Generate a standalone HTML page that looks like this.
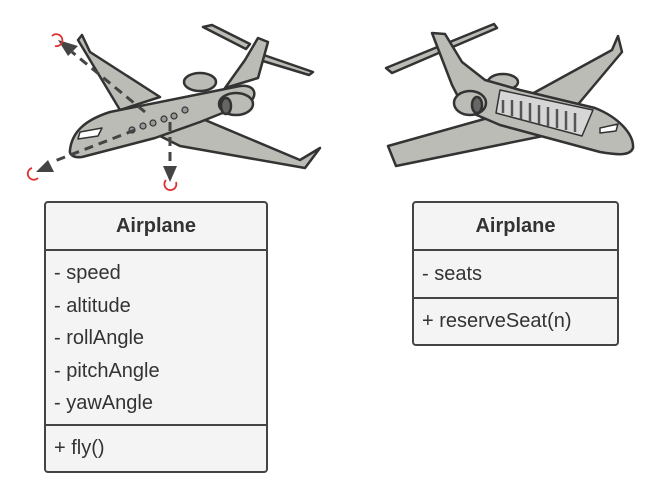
<!DOCTYPE html>
<html><head><style>
body{margin:0;width:671px;height:497px;background:#fff;position:relative;font-family:"Liberation Sans",sans-serif;color:#333;overflow:hidden}
.box{position:absolute;border:2.5px solid #444;border-radius:4px;background:#f4f4f4;box-sizing:border-box}
.sec{border-top:2.5px solid #444;box-sizing:border-box;padding-left:8px;font-size:20px}
.hd{text-align:center;font-weight:bold;font-size:20px}
</style></head><body>
<svg width="671" height="200" style="position:absolute;left:0;top:0" stroke="#333" stroke-width="2.5" stroke-linejoin="round">
<!-- left plane -->
<g fill="#bcbcb6">
<polygon points="203,27 212,25 250,44 246,49"/>
<polygon points="255,52 313,72 309,75 253,58"/>
<polygon points="78,40 82,35 90,52 160,97 120,110"/>
<polygon points="225,88 245,60 258,38 268,42 258,78"/>
<ellipse cx="200" cy="82" rx="16" ry="9"/>
<polygon points="158,135 205,120 300,160 320,148 305,168 180,146"/>
<path d="M70,150 C72,132 85,120 110,112 L240,86 C255,84 258,95 250,102 L200,122 L155,138 L82,157 C74,158 69,155 70,150 Z"/>
<ellipse cx="236" cy="104" rx="17" ry="11"/>
</g>
<ellipse cx="226" cy="106" rx="5" ry="8" fill="#666"/>
<polygon points="80,132 102,128 98,136 78,139" fill="#fff" stroke-width="1.5"/>
<g fill="#999" stroke-width="1.2"><circle cx="132" cy="130" r="3"/><circle cx="143" cy="126" r="3"/><circle cx="153" cy="123" r="3"/><circle cx="164" cy="119" r="3"/><circle cx="174" cy="116" r="3"/><circle cx="185" cy="110" r="3"/></g>
<g stroke="#444" stroke-width="3" stroke-dasharray="9,6" fill="none">
<line x1="145" y1="112" x2="72" y2="52"/>
<line x1="135" y1="130" x2="52" y2="162"/>
<line x1="170" y1="122" x2="170" y2="168"/>
</g>
<g fill="#444" stroke="none">
<polygon points="58,40 78,46 68,56"/>
<polygon points="36,172 48,160 54,172"/>
<polygon points="163,166 177,166 170,182"/>
</g>
<g stroke="#d33" stroke-width="1.8" fill="none">
<path d="M52,36 A6,6 0 1 1 55,46"/><path d="M32,168 A6,6 0 1 0 38,178"/><path d="M166,180 A6,6 0 1 0 176,182"/>
</g>
<!-- right plane -->
<g fill="#bcbcb6">
<polygon points="386,68 494,24 497,28 392,73"/>
<polygon points="530,95 612,50 618,36 622,52 575,108"/>
<ellipse cx="503" cy="82" rx="15" ry="8"/>
<polygon points="495,116 388,146 396,166 548,135"/>
<path d="M432,33 L445,34 L462,62 L485,80 L520,90 L595,108 C620,118 634,135 633,148 C630,156 618,155 600,152 L500,125 L465,110 L452,85 Z"/>
<ellipse cx="470" cy="103" rx="16" ry="12"/>
</g>
<ellipse cx="477" cy="105" rx="5" ry="8" fill="#666"/>
<polygon points="500,90 593,110 582,136 496,113" fill="#d6d6d6" stroke-width="1.5"/>
<g stroke="#555" stroke-width="2.5"><line x1="503" y1="100" x2="503" y2="113"/><line x1="512" y1="100" x2="512" y2="116"/><line x1="521" y1="101" x2="521" y2="119"/><line x1="530" y1="103" x2="530" y2="122"/><line x1="539" y1="105" x2="539" y2="124"/><line x1="548" y1="107" x2="548" y2="126"/><line x1="557" y1="109" x2="557" y2="128"/><line x1="566" y1="111" x2="566" y2="130"/><line x1="575" y1="113" x2="575" y2="132"/></g>
<polygon points="600,128 618,124 616,131 600,133" fill="#fff" stroke-width="1.5"/>
</svg>
<div class="box" style="left:44px;top:201px;width:224px;height:272px">
<div class="hd" style="height:46px;line-height:46px">Airplane</div>
<div class="sec" style="height:175px;padding-top:6px;line-height:32.5px">- speed<br>- altitude<br>- rollAngle<br>- pitchAngle<br>- yawAngle</div>
<div class="sec" style="height:46px;line-height:44px">+ fly()</div>
</div>
<div class="box" style="left:412px;top:201px;width:207px;height:145px">
<div class="hd" style="height:46px;line-height:46px">Airplane</div>
<div class="sec" style="height:48px;line-height:46px">- seats</div>
<div class="sec" style="height:46px;line-height:44px">+ reserveSeat(n)</div>
</div>
</body></html>
